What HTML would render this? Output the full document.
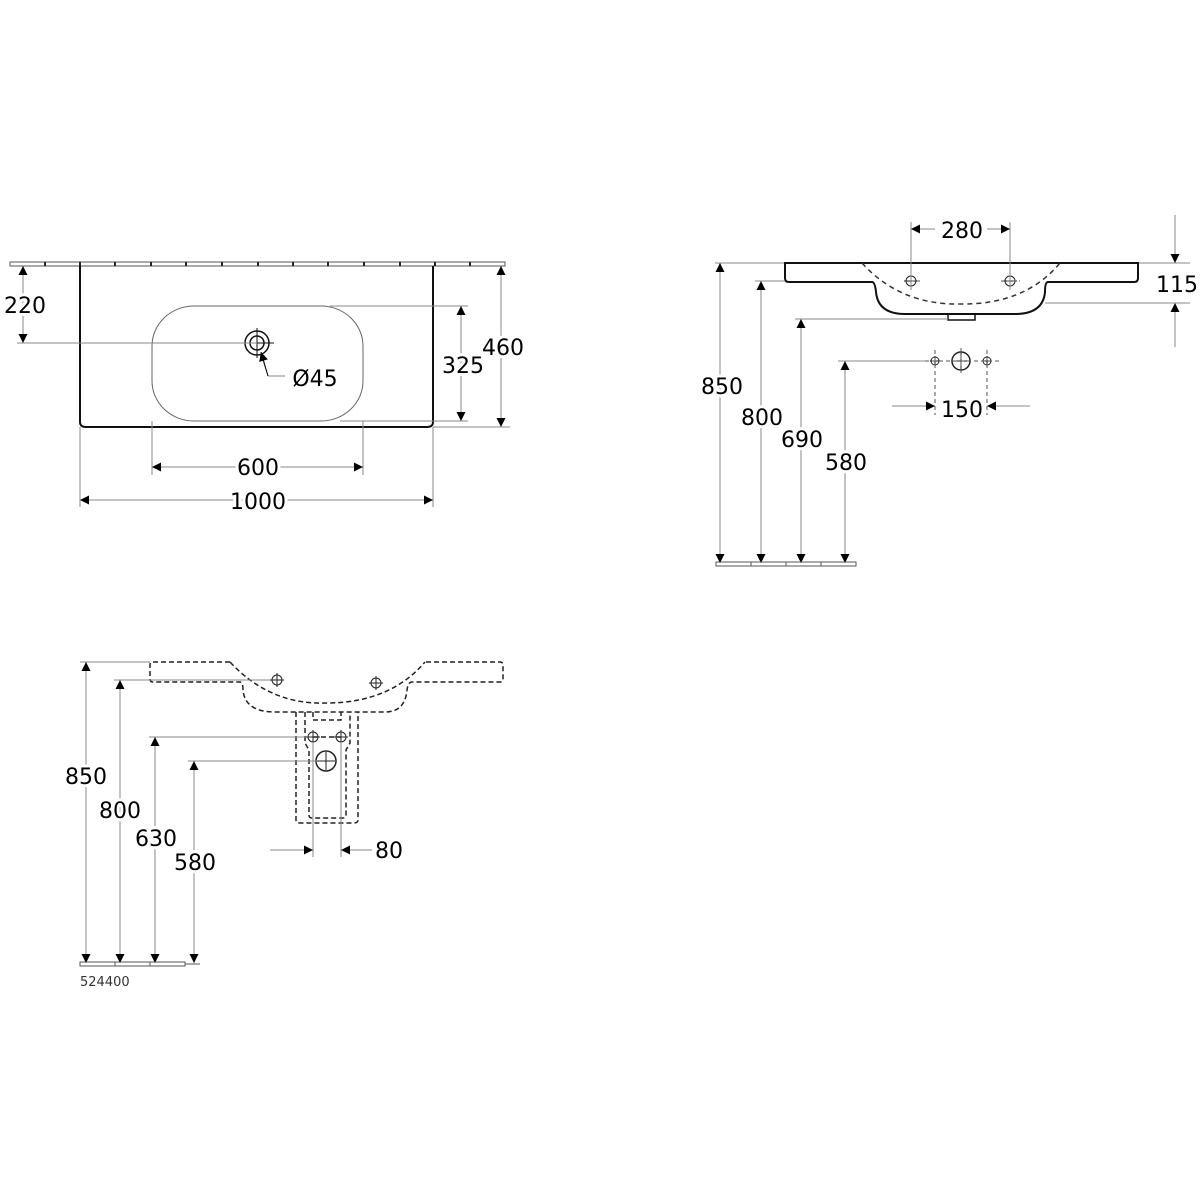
<!DOCTYPE html>
<html><head><meta charset="utf-8"><style>
html,body{margin:0;padding:0;background:#fff}
svg{display:block}
text{font-family:"DejaVu Sans","Liberation Sans",sans-serif;font-size:22px;fill:#000}
</style></head><body>
<svg width="1200" height="1200" viewBox="0 0 1200 1200" xmlns="http://www.w3.org/2000/svg">
<defs>
<marker id="a" viewBox="0 0 10 10" refX="10" refY="5" markerWidth="16" markerHeight="9" markerUnits="userSpaceOnUse" orient="auto-start-reverse"><path d="M0,0L10,5L0,10z" fill="#000"/></marker>
</defs>
<g fill="none" stroke="#888" stroke-width="1">
<!-- DRAWING 1 -->
<rect x="10" y="262" width="495" height="4" fill="#fff" stroke="#555"/>
<path d="M45,262v4M80,262v4M115,262v4M151,262v4M186,262v4M222,262v4M258,262v4M293,262v4M328,262v4M364,262v4M400,262v4M435,262v4M470,262v4" stroke="#222" stroke-width="2"/>
<path d="M80,266V422Q80,427 86,427H427Q433,427 433,422V266" stroke="#111" stroke-width="2"/>
<rect x="152" y="306" width="211" height="115" rx="42" ry="40" stroke="#666"/>
<circle cx="257" cy="343" r="12" stroke="#111" stroke-width="1.5"/>
<circle cx="257" cy="343" r="7" stroke="#111" stroke-width="1.5"/>
<path d="M242,343h32M257,328v30" stroke="#111"/>
<path d="M17,343H257"/>
<line x1="23" y1="266" x2="23" y2="343" marker-start="url(#a)" marker-end="url(#a)" stroke="#888"/>
<path d="M330,306H468M340,421H468M433,427H510"/>
<line x1="461" y1="306" x2="461" y2="421" marker-start="url(#a)" marker-end="url(#a)"/>
<line x1="501" y1="266" x2="501" y2="427" marker-start="url(#a)" marker-end="url(#a)"/>
<path d="M152,421V475M363,421V475M80,427V507M433,427V507"/>
<line x1="152" y1="467" x2="363" y2="467" marker-start="url(#a)" marker-end="url(#a)"/>
<line x1="80" y1="500" x2="433" y2="500" marker-start="url(#a)" marker-end="url(#a)"/>
<path d="M268,376H285M268,376L262,357"/>
<line x1="268" y1="376" x2="261" y2="352" marker-end="url(#a)" stroke="#000"/>
<!-- DRAWING 2 -->
<path d="M715,263H1190"/>
<path d="M785,263H1138V278Q1138,282 1134,282H1048Q1045,282 1045,292Q1043,314 1015,314H905Q878,314 876,292Q875,282 872,282H789Q785,282 785,278Z" stroke="#111" stroke-width="2" fill="#fff"/>
<rect x="948" y="314" width="27" height="6" stroke="#111" stroke-width="1.5"/>
<path d="M862,263Q900,305 960,304Q1025,305 1060,263" stroke="#333" stroke-width="1.5" stroke-dasharray="5,4"/>
<g stroke="#222"><circle cx="911" cy="281" r="5"/><path d="M904,281h14"/><circle cx="1010" cy="281" r="5"/><path d="M1003,281h14"/></g>
<path d="M911,222V290M1010,222V290" stroke="#888"/>
<path d="M911,281H923M1001,281H1020" stroke="#555" stroke-dasharray="3,3"/>
<line x1="935" y1="229" x2="911" y2="229" marker-end="url(#a)"/>
<line x1="987" y1="229" x2="1010" y2="229" marker-end="url(#a)"/>
<line x1="1175" y1="215" x2="1175" y2="263" marker-end="url(#a)"/>
<line x1="1175" y1="347" x2="1175" y2="303" marker-end="url(#a)"/>
<path d="M1045,303H1190"/>
<path d="M755,281H785M795,319H948M838,361H925"/>
<line x1="720" y1="263" x2="720" y2="563" marker-start="url(#a)" marker-end="url(#a)"/>
<line x1="761" y1="281" x2="761" y2="563" marker-start="url(#a)" marker-end="url(#a)"/>
<line x1="801" y1="319" x2="801" y2="563" marker-start="url(#a)" marker-end="url(#a)"/>
<line x1="845" y1="361" x2="845" y2="563" marker-start="url(#a)" marker-end="url(#a)"/>
<rect x="716" y="562" width="140" height="4" stroke="#555"/>
<path d="M751,562v4M786,562v4M821,562v4" stroke="#555"/>
<g stroke="#222"><circle cx="935" cy="361" r="4"/><path d="M930,361h10M935,356v10"/><circle cx="961" cy="361" r="9" stroke-width="1.5"/><path d="M953,361h16M961,353v16"/><circle cx="987" cy="361" r="4"/><path d="M982,361h10M987,356v10"/></g>
<path d="M925,361H1000M935,350V415M987,350V415M961,348V374" stroke="#555" stroke-dasharray="4,3"/>
<line x1="892" y1="406" x2="935" y2="406" marker-end="url(#a)"/>
<line x1="1030" y1="406" x2="987" y2="406" marker-end="url(#a)"/>
<!-- DRAWING 3 -->
<path d="M80,662H150"/>
<g stroke="#222" stroke-width="1.5" stroke-dasharray="5,3">
<path d="M230,662H152Q150,662 150,665V679Q150,682 153,682H240Q243,682 243,690Q245,712 275,712H385Q405,712 407,690Q408,682 412,682H500Q503,682 503,679V665Q503,662 500,662H425"/>
<path d="M230,662Q270,705 326,703Q390,703 425,662"/>
<path d="M296,712V820Q296,823 300,823H354Q358,823 358,820V712"/>
<path d="M305,712V743L309,750V815Q309,818 312,818H343Q346,818 346,815V750L350,743V712"/>
<path d="M313,712V720H341V712"/>
<path d="M313,737H341"/>
</g>
<g stroke="#222"><circle cx="277" cy="680" r="5"/><path d="M270,680h14M277,673v14"/><circle cx="376" cy="683" r="5"/><path d="M369,683h14M376,676v14"/>
<circle cx="313" cy="737" r="5"/><path d="M306,737h14M313,730v14"/><circle cx="341" cy="737" r="5"/><path d="M334,737h14M341,730v14"/>
<circle cx="326" cy="761" r="10" stroke-width="1.5"/><path d="M317,761h18M326,752v18"/></g>
<path d="M114,680H270M149,737H306M188,761H317M313,742V857M341,742V857"/>
<line x1="270" y1="850" x2="313" y2="850" marker-end="url(#a)"/>
<line x1="372" y1="850" x2="341" y2="850" marker-end="url(#a)"/>
<line x1="86" y1="662" x2="86" y2="963" marker-start="url(#a)" marker-end="url(#a)"/>
<line x1="120" y1="680" x2="120" y2="963" marker-start="url(#a)" marker-end="url(#a)"/>
<line x1="155" y1="737" x2="155" y2="963" marker-start="url(#a)" marker-end="url(#a)"/>
<line x1="194" y1="761" x2="194" y2="963" marker-start="url(#a)" marker-end="url(#a)"/>
<rect x="80" y="962" width="105" height="4" stroke="#555"/>
<path d="M115,962v4M150,962v4M185,964H200" stroke="#555"/>
</g>
<g text-anchor="middle" style="paint-order:stroke" stroke="#fff" stroke-width="6">
<text x="25" y="313">220</text>
<text x="315" y="386">Ø45</text>
<text x="463" y="373">325</text>
<text x="503" y="355">460</text>
<text x="258" y="475">600</text>
<text x="258" y="509">1000</text>
<text x="962" y="238">280</text>
<text x="1177" y="292">115</text>
<text x="962" y="417">150</text>
<text x="722" y="394">850</text>
<text x="762" y="425">800</text>
<text x="802" y="447">690</text>
<text x="846" y="470">580</text>
<text x="86" y="784">850</text>
<text x="120" y="818">800</text>
<text x="156" y="846">630</text>
<text x="195" y="870">580</text>
<text x="389" y="858">80</text>
</g>
<text x="80" y="986" style="font-size:13px;fill:#333">524400</text>
</svg>
</body></html>
